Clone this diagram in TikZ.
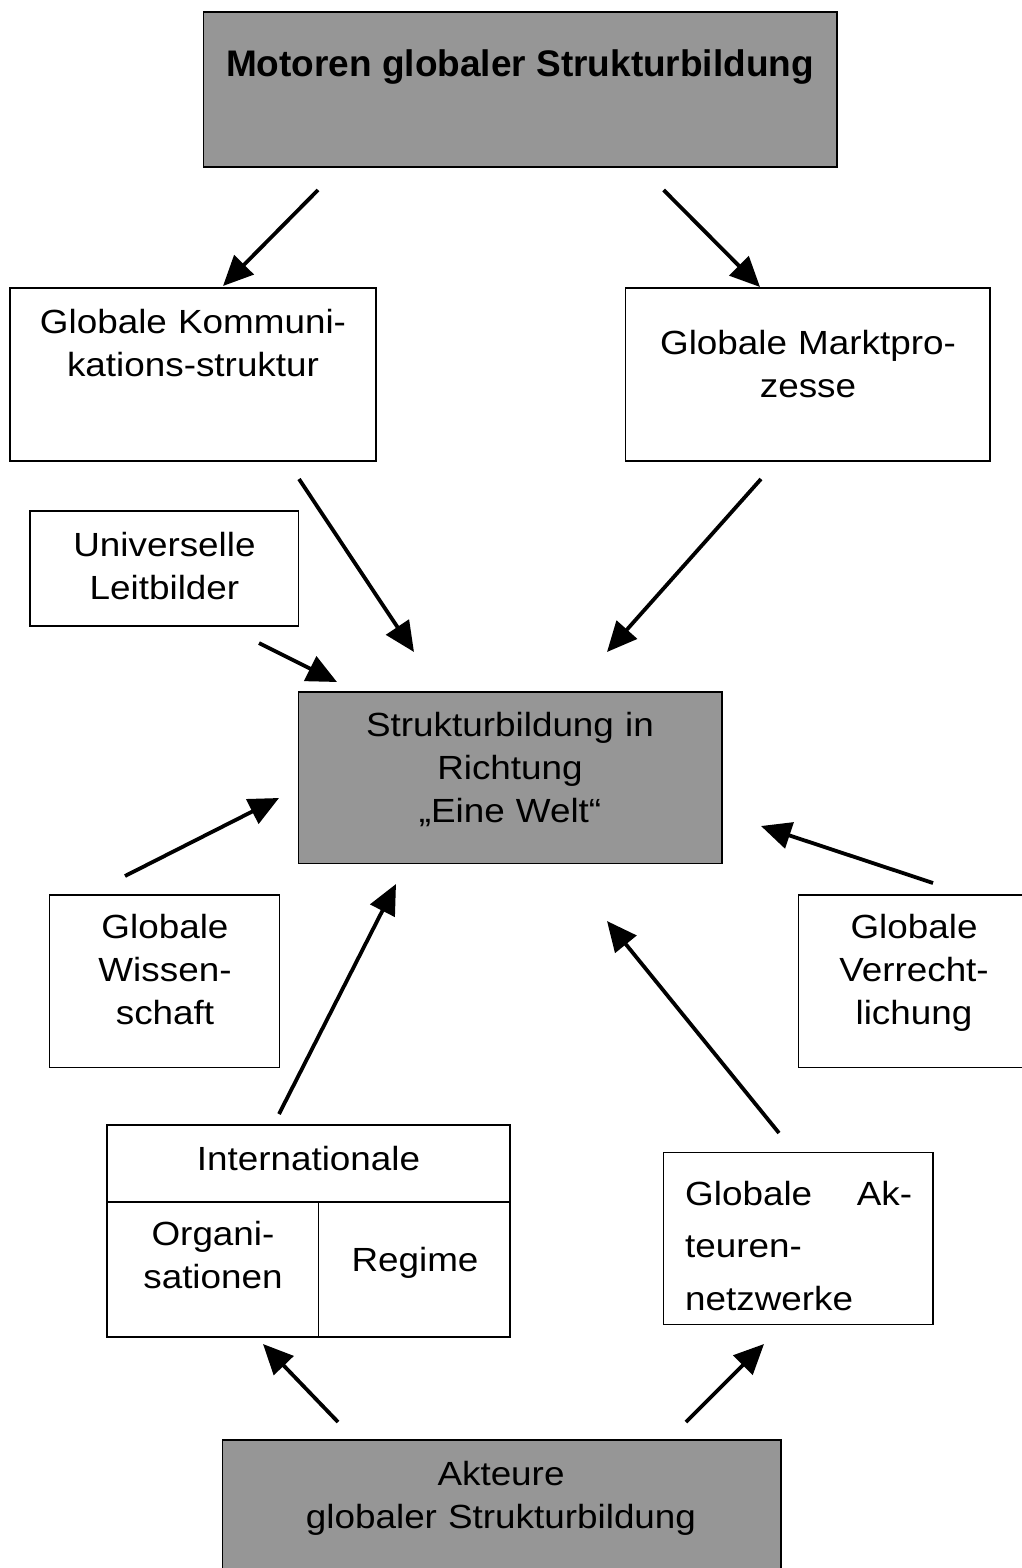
\documentclass[tikz,border=0pt]{standalone}
\usepackage{fontspec}
\setmainfont{Liberation Sans}
\newfontfamily\regf[FakeStretch=1.1]{Liberation Sans}
\usetikzlibrary{arrows.meta}
\definecolor{fgrey}{RGB}{150,150,150}
\begin{document}
\begin{tikzpicture}[x=1pt,y=-1pt,
  box/.style={draw=black, line width=1.6pt, fill=white, anchor=north west, inner sep=0pt, outer sep=0pt},
  greybox/.style={box, fill=fgrey},
  lbl/.style={font=\regf\fontsize{33.5}{43}\selectfont, text width=420pt, align=center, inner sep=0pt, anchor=north, execute at begin node=\strut},
  ttl/.style={font=\bfseries\fontsize{37}{43}\selectfont, align=center, inner sep=0pt, anchor=north, execute at begin node=\strut},
  arr/.style={line width=3.8pt, -{Triangle[length=30pt,width=27pt]}}
]
\useasboundingbox (0,0) rectangle (1021,1568);

% boxes
\node[greybox, minimum width=633.4pt, minimum height=154.9pt] (motor) at (203.3,11.9) {};
\node[box, minimum width=366pt, minimum height=173pt] (komm) at (10,287.7) {};
\node[box, minimum width=364.7pt, minimum height=173pt] (markt) at (625.3,287.7) {};
\node[box, minimum width=268.5pt, minimum height=114.7pt] (leit) at (30,511) {};
\node[greybox, minimum width=423.4pt, minimum height=171.6pt] (welt) at (298.3,691.7) {};
\node[box, minimum width=230pt, minimum height=172.3pt] (wiss) at (49.3,895) {};
\node[box, minimum width=241.7pt, minimum height=172.3pt] (recht) at (798.3,895) {};
\node[box, minimum width=403pt, minimum height=76.7pt] (intl) at (107,1125) {};
\node[box, minimum width=211.5pt, minimum height=135pt] (org) at (107,1201.7) {};
\node[box, minimum width=191.5pt, minimum height=135pt] (reg) at (318.5,1201.7) {};
\node[box, minimum width=269.4pt, minimum height=172pt] (netz) at (663.3,1152.3) {};
\node[greybox, minimum width=558.5pt, minimum height=160pt] (akt) at (222.5,1440) {};

% texts
\node[ttl] (motor-t) at (520,46.5) {Motoren globaler Strukturbildung};
\node[lbl] (komm-t) at (193,303.2) {Globale Kommuni-\\kations-struktur};
\node[lbl] (markt-t) at (808,324) {Globale Marktpro-\\zesse};
\node[lbl] (leit-t) at (164.5,526) {Universelle\\Leitbilder};
\node[lbl] (welt-t) at (510,706) {Strukturbildung in\\Richtung\\„Eine Welt“};
\node[lbl] (wiss-t) at (165,908) {Globale\\Wissen-\\schaft};
\node[lbl] (recht-t) at (914,908) {Globale\\Verrecht-\\lichung};
\node[lbl] (intl-t) at (308.5,1140) {Internationale};
\node[lbl] (org-t) at (213,1215) {Organi-\\sationen};
\node[lbl] (reg-t) at (415,1241) {Regime};
\node[font=\regf\fontsize{33.5}{52.5}\selectfont, text width=227pt, align=left, inner sep=0pt, anchor=north west, execute at begin node=\strut] (netz-t) at (685,1168.2) {\makebox[227pt][s]{Globale\hfill Ak-}\\teuren-\\netzwerke};
\node[lbl] (akt-t) at (501,1455) {Akteure\\globaler Strukturbildung};

% connector end points
\coordinate (a1s) at (318,190);   \coordinate (a1e) at (223,286);
\coordinate (a2s) at (663.6,190); \coordinate (a2e) at (760,287);
\coordinate (a3s) at (299,479);   \coordinate (a3e) at (414,652);
\coordinate (a4s) at (761,479);   \coordinate (a4e) at (607,652);
\coordinate (a5s) at (259,643);   \coordinate (a5e) at (337,682);
\coordinate (a6s) at (125,876);   \coordinate (a6e) at (279,798);
\coordinate (a7s) at (279,1114);  \coordinate (a7e) at (396,884);
\coordinate (a8s) at (779,1133);  \coordinate (a8e) at (607,921);
\coordinate (a9s) at (933,883);   \coordinate (a9e) at (761,826);
\coordinate (a10s) at (338,1422); \coordinate (a10e) at (263,1344);
\coordinate (a11s) at (686,1422); \coordinate (a11e) at (764,1344);

\foreach \i in {1,...,11} {\draw[arr] (a\i s) -- (a\i e);}
\end{tikzpicture}
\end{document}
